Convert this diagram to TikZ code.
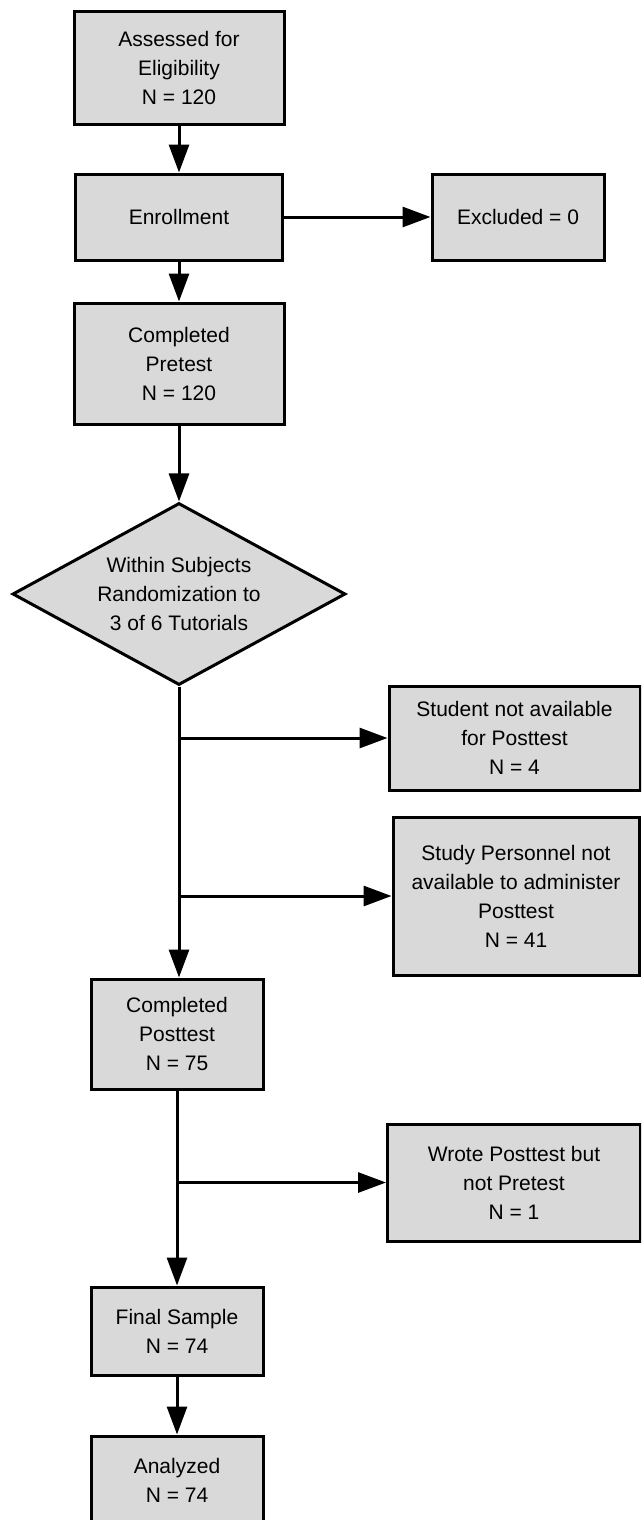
\documentclass[tikz,border=0pt]{standalone}
\usepackage{fontspec}
\setmainfont{Liberation Sans}
\usetikzlibrary{arrows.meta,shapes.geometric}
\definecolor{boxfill}{RGB}{217,217,217}
\begin{document}
\begin{tikzpicture}[x=1pt,y=-1pt,
  box/.style={draw=black, line width=3pt, fill=boxfill, rectangle, align=center,
    font=\fontsize{21}{29}\selectfont, inner sep=0pt},
  dia/.style={draw=black, line width=3pt, fill=boxfill, diamond, aspect=1.83, align=center,
    font=\fontsize{21}{29}\selectfont, inner sep=0pt, minimum width=333pt, minimum height=182pt},
  arr/.style={line width=3pt, -{Triangle[length=28pt,width=20pt]}}]
\useasboundingbox (0,0) rectangle (641,1520);
\clip (0,0) rectangle (641,1520);

\node[box, minimum width=210pt, minimum height=112pt] (elig) at (179,68) {Assessed for\\Eligibility\\N = 120};
\node[box, minimum width=207pt, minimum height=86pt] (enrol) at (179,217) {Enrollment};
\node[box, minimum width=172pt, minimum height=86pt] (excl) at (518,217) {Excluded = 0};
\node[box, minimum width=210pt, minimum height=121pt] (pre) at (179,363.5) {Completed\\Pretest\\N = 120};
\node[dia] (rand) at (179,594) {Within Subjects\\Randomization to\\3 of 6 Tutorials};
\node[box, minimum width=251pt, minimum height=104pt] (stud) at (514.5,738) {Student not available\\for Posttest\\N = 4};
\node[box, minimum width=246pt, minimum height=158pt] (pers) at (516,896) {Study Personnel not\\available to administer\\Posttest\\N = 41};
\node[box, minimum width=172pt, minimum height=110pt] (post) at (177,1034) {Completed\\Posttest\\N = 75};
\node[box, minimum width=253pt, minimum height=117pt] (wrote) at (514,1182.5) {Wrote Posttest but\\not Pretest\\N = 1};
\node[box, minimum width=172pt, minimum height=88pt] (final) at (177,1331) {Final Sample\\N = 74};
\node[box, minimum width=172pt, minimum height=88pt] (anal) at (177,1480) {Analyzed\\N = 74};

\draw[arr] (elig) -- (enrol);
\draw[arr] (enrol) -- (excl);
\draw[arr] (enrol) -- (pre);
\draw[arr] (pre) -- (rand);

\coordinate (b1) at (rand.south |- stud.west);
\coordinate (b2) at (rand.south |- pers.west);
\draw[arr] (rand.south) -- (rand.south |- post.north);
\draw[arr] (b1) -- (stud.west);
\draw[arr] (b2) -- (pers.west);

\coordinate (b3) at (post.south |- wrote.west);
\draw[arr] (post) -- (final);
\draw[arr] (b3) -- (wrote.west);
\draw[arr] (final) -- (anal);
\end{tikzpicture}
\end{document}
